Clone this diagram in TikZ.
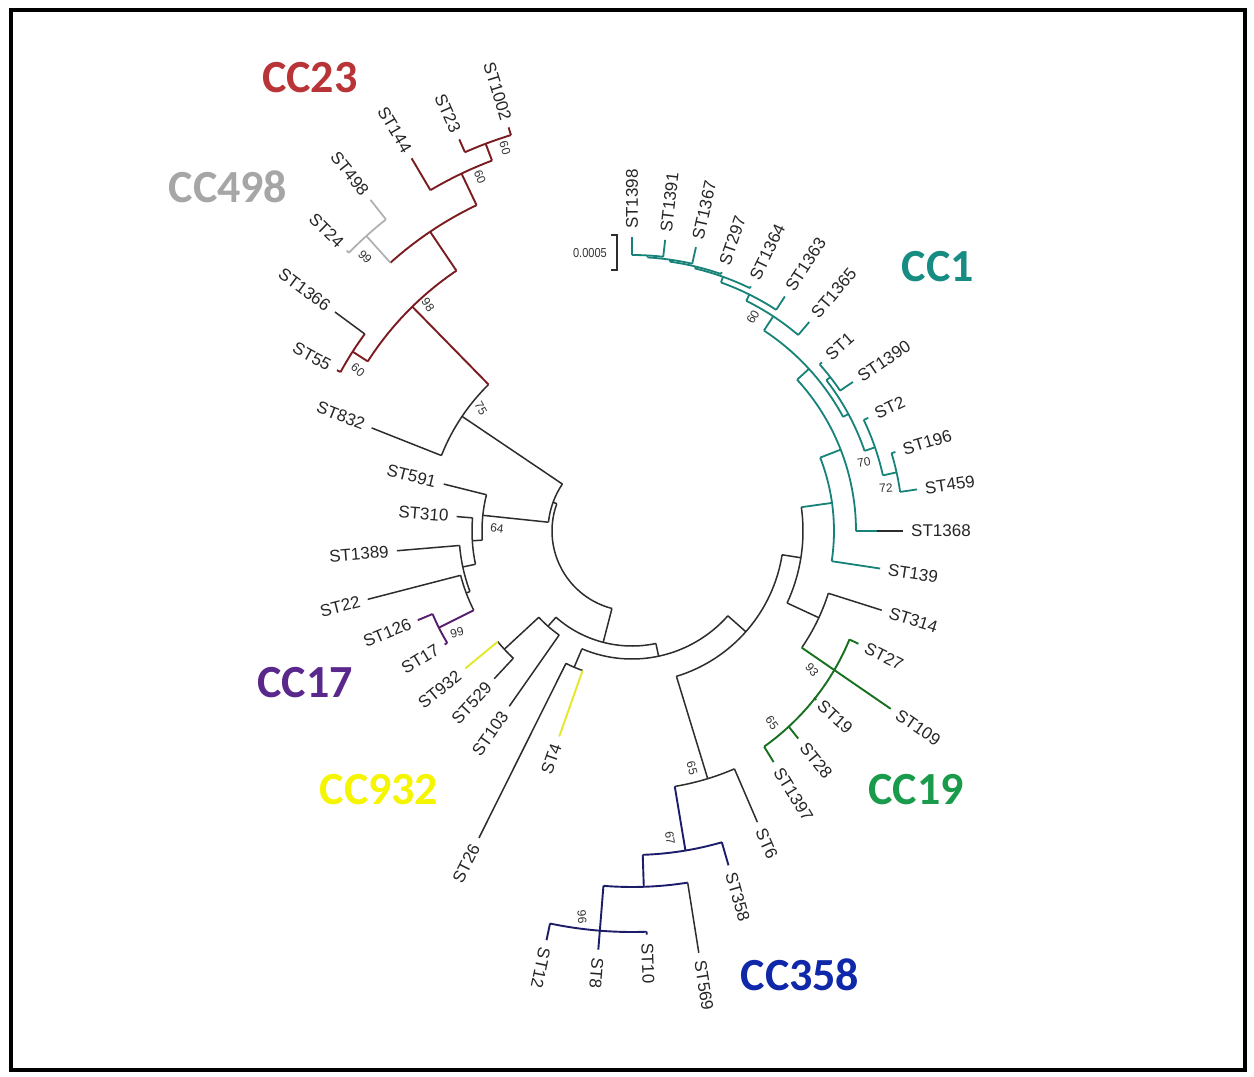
\documentclass[tikz,border=0pt]{standalone}
\usepackage{fontspec}
\setmainfont{Liberation Sans}
\newfontfamily\ccfont{Carlito}
\definecolor{blk}{RGB}{45,45,45}
\definecolor{brnC}{RGB}{122,28,32}
\definecolor{gryC}{RGB}{175,175,175}
\definecolor{purC}{RGB}{85,30,110}
\definecolor{yelC}{RGB}{228,232,40}
\definecolor{navC}{RGB}{28,28,105}
\definecolor{grnC}{RGB}{22,112,30}
\definecolor{telC}{RGB}{22,130,120}
\definecolor{c23}{RGB}{184,52,55}
\definecolor{c498}{RGB}{166,166,166}
\definecolor{c1}{RGB}{22,140,130}
\definecolor{c17}{RGB}{90,40,140}
\definecolor{c932}{RGB}{245,245,0}
\definecolor{c19}{RGB}{25,155,75}
\definecolor{c358}{RGB}{15,40,170}
\newcommand{\tRad}[4][]{\draw[br,#1] (#2:#3) -- (#2:#4);}
\newcommand{\tArc}[4][]{\draw[br,#1] (#2:#4) arc[start angle=#2,end angle=#3,radius=#4];}
\newcommand{\leafR}[3]{\node[lab,anchor=west,rotate=#1] (l#3) at (#1:#2) {#3};}
\newcommand{\leafL}[3]{\node[lab,anchor=east,rotate=#1-180] (l#3) at (#1:#2) {#3};}
\begin{document}
\begin{tikzpicture}[x=1pt,y=1pt,
  br/.style={line width=1.5pt,draw=blk,line join=round},
  brn/.style={draw=brnC,line width=1.9pt},
  gry/.style={draw=gryC,line width=1.7pt},
  pur/.style={draw=purC,line width=1.9pt},
  yel/.style={draw=yelC,line width=1.9pt},
  nav/.style={draw=navC,line width=1.9pt},
  grn/.style={draw=grnC,line width=1.9pt},
  tel/.style={draw=telC,line width=1.8pt},
  lab/.style={font=\fontsize{17}{17}\selectfont,inner sep=1pt,text=black!85},
  bs/.style={font=\fontsize{12}{12}\selectfont,inner sep=0pt,text=black!80},
  cc/.style={font=\ccfont\bfseries\fontsize{46}{46}\selectfont,inner sep=0pt}]
\useasboundingbox (-632,-546) rectangle (622,531);
\fill[white] (-632,-546) rectangle (622,531);
% ---------- root and left part
\tArc{160}{255.5}{80}
\tRad{160}{80}{84}
\tArc{146}{174}{84}
\tRad{146}{84}{205}
\tArc{134.4}{158.4}{205}
\tRad{158.4}{205}{280}
\tRad[brn]{134.4}{205}{314}
\tArc[brn]{124}{147.3}{314}
\tRad[brn]{147.3}{314}{332}
\tArc[brn]{143.6}{151.4}{332}
\tRad{143.6}{332}{369}
\tRad[brn]{151.4}{332}{336}
\tRad[brn]{124}{314}{361}
\tArc[brn]{115.5}{132}{361}
\tRad[gry]{132}{361}{397}
\tArc[gry]{128.3}{135.5}{397}
\tRad[gry]{128.3}{397}{422}
\tRad[gry]{135.5}{397}{400}
\tRad[brn]{115.5}{361}{396}
\tArc[brn]{110.7}{120.6}{396}
\tRad[brn]{120.6}{396}{433}
\tRad[brn]{110.7}{396}{414}
\tArc[brn]{107}{113.8}{414}
\tRad[brn]{113.8}{414}{428}
\tRad[brn]{107}{414}{422}
% 64 clade
\tRad{174}{84}{150}
\tArc{166}{183.5}{150}
\tRad{166}{150}{194}
\tRad{183.5}{150}{160}
\tArc{175.3}{192}{160}
\tRad{175.3}{160}{176}
\tRad{192}{160}{173}
\tArc{184.8}{200.5}{173}
\tRad{184.8}{173}{236}
\tRad{200.5}{173}{177}
\tArc{194.5}{206.6}{177}
\tRad{194.5}{177}{273}
\tRad[pur]{206.6}{177}{216}
\tArc[pur]{202.6}{211.2}{216}
\tRad[pur]{202.6}{216}{232}
\tRad[pur]{211.2}{216}{219}
% J
\tRad{255.5}{80}{115}
\tArc{228.6}{282}{115}
\tRad{228.6}{115}{127}
\tArc{222.8}{235}{127}
\tRad{222.8}{127}{174}
\tArc{219.5}{227}{174}
\tRad[yel]{219.5}{174}{216}
\tRad{227}{174}{202}
\tRad{235}{127}{214}
% K
\tRad{282}{115}{128}
\tArc{247}{318.5}{128}
\tRad{247}{128}{148}
\tArc{243.5}{250.5}{148}
\tRad{243.5}{148}{343}
\tRad[yel]{250.5}{148}{218}
% M
\tRad{318.5}{128}{152}
\tArc{287}{351}{152}
\tRad{287}{152}{259}
\tArc{279.5}{293.3}{259}
\tRad{293.3}{259}{317}
\tRad[nav]{279.5}{259}{324}
\tArc[nav]{271.9}{286.1}{324}
\tRad[nav]{286.1}{324}{348}
\tRad[nav]{271.9}{324}{356}
\tArc[nav]{265.4}{279}{356}
\tRad{279}{356}{427}
\tRad[nav]{265.4}{356}{401}
\tArc[nav]{258.2}{272.1}{401}
\tRad[nav]{258.2}{401}{418}
\tRad[nav]{265.4}{401}{420}
\tRad[nav]{272.1}{401}{404}
% N
\tRad{351}{152}{171}
\tArc{-24.9}{8}{171}
\tRad{-24.9}{171}{206}
\tArc{-34.5}{-17.6}{206}
\tRad{-17.6}{206}{262}
\tRad[grn]{-34.5}{206}{314}
\draw[br,grn] plot[domain=-58.5:-26.5,samples=40] (\x:{243+(-26.5-\x)*0.31});
\tRad[grn]{-26.5}{243}{253}
\tRad[grn]{-42.5}{247}{250}
\tRad[grn]{-51.3}{250}{266}
\tRad[grn]{-58.5}{253}{271}
% CC1
\tRad[tel]{8}{171}{202}
\tArc[tel]{-8.6}{21.3}{202}
\tRad[tel]{-8.6}{202}{251}
\tRad[tel]{21.3}{202}{224}
\tArc[tel]{0}{42.5}{224}
\tRad[tel]{0}{224}{245}
\tRad{0}{245}{271}
\tRad[tel]{42.5}{224}{240}
\tArc[tel]{28.4}{56.65}{240}
\tRad[tel]{28.4}{240}{246}
\tArc[tel]{19}{37.8}{246}
\tRad[tel]{37.8}{246}{251}
\tArc[tel]{34}{41.6}{251}
\tRad[tel]{34}{251}{266.5}
\tRad[tel]{41.6}{251}{254}
\tRad[tel]{19}{246}{257}
\tArc[tel]{12.5}{25.6}{257}
\tRad[tel]{25.6}{257}{262}
\tRad[tel]{12.5}{257}{271}
\tArc[tel]{8.3}{16.7}{271}
\tRad[tel]{8.3}{271}{288}
\tRad[tel]{16.7}{271}{275}
\tRad[tel]{56.65}{240}{257}
\tArc[tel]{49.7}{63.6}{257}
\tRad[tel]{49.7}{257}{274}
\tRad[tel]{63.6}{257}{264}
\tArc[tel]{56.9}{70.3}{264}
\tRad[tel]{56.9}{264}{280}
\tRad[tel]{70.3}{264}{270}
\tArc[tel]{64.1}{76.5}{270}
\tRad[tel]{64.1}{270}{272}
\tRad[tel]{76.5}{270}{272}
\tArc[tel]{70.9}{82}{272}
\tRad[tel]{70.9}{272}{274}
\tRad[tel]{82}{272}{274}
\tArc[tel]{77.3}{86.75}{274}
\tRad[tel]{77.3}{274}{291}
\tRad[tel]{86.75}{274}{276}
\tArc[tel]{83.5}{90}{276}
\tRad[tel]{83.5}{276}{293}
\tRad[tel]{90}{276}{294}
% ---------- leaf labels
\leafL{107}{429}{ST1002}
\leafL{113.8}{435}{ST23}
\leafL{120.6}{440}{ST144}
\leafL{128.3}{429}{ST498}
\leafL{135.5}{407}{ST24}
\leafL{143.6}{376}{ST1366}
\leafL{151.4}{343}{ST55}
\leafL{158.4}{287}{ST832}
\leafL{166}{201}{ST591}
\leafL{175.3}{183}{ST310}
\leafL{184.8}{243}{ST1389}
\leafL{194.5}{280}{ST22}
\leafL{202.6}{239}{ST126}
\leafL{211.2}{226}{ST17}
\leafL{219.5}{223}{ST932}
\leafL{227}{209}{ST529}
\leafL{235}{221}{ST103}
\leafL{243.5}{350}{ST26}
\leafL{250.5}{225}{ST4}
\leafR{258.2}{425}{ST12}
\leafR{265.4}{427}{ST8}
\leafR{272.1}{411}{ST10}
\leafR{279}{434}{ST569}
\leafR{286.1}{355}{ST358}
\leafR{293.3}{324}{ST6}
\leafR{-58.5}{278}{ST1397}
\leafR{-51.3}{273}{ST28}
\leafR{-42.5}{254}{ST19}
\leafR{-34.5}{321}{ST109}
\leafR{-26.5}{260}{ST27}
\leafR{-17.6}{269}{ST314}
\leafR{-8.6}{258}{ST139}
\leafR{0}{278}{ST1368}
\leafR{8.3}{295}{ST459}
\leafR{16.7}{282}{ST196}
\leafR{25.6}{269}{ST2}
\leafR{34}{273}{ST1390}
\leafR{41.6}{261}{ST1}
\leafR{49.7}{281}{ST1365}
\leafR{56.9}{287}{ST1363}
\leafR{64.1}{279}{ST1364}
\leafR{70.9}{281}{ST297}
\leafR{77.3}{298}{ST1367}
\leafR{83.5}{300}{ST1391}
\leafR{90}{301}{ST1398}
% ---------- pixel-positioned items
\begin{scope}[shift={(-632,531)},y=-1pt]
\draw[line width=4pt] (11,10) rectangle (1245,1070);
\node[cc,text=c23] (cc23) at (310,78) {CC23};
\node[cc,text=c498] (cc498) at (228,187) {CC498};
\node[cc,text=c1] (cc1) at (938,267) {CC1};
\node[cc,text=c17] (cc17) at (305,683) {CC17};
\node[cc,text=c932] (cc932) at (379,790) {CC932};
\node[cc,text=c19] (cc19) at (916,790) {CC19};
\node[cc,text=c358] (cc358) at (800,975) {CC358};
\node[bs,rotate=-73] (b1) at (505,148) {60};
\node[bs,rotate=-67] (b2) at (480,177) {60};
\node[bs,rotate=-45] (b3) at (365,257) {99};
\node[bs,rotate=-55] (b4) at (428,305) {98};
\node[bs,rotate=-40] (b5) at (358,370) {60};
\node[bs,rotate=-60] (b6) at (481,408) {75};
\node[bs,rotate=-8] (b7) at (497,528) {64};
\node[bs,rotate=15] (b8) at (457,633) {99};
\node[bs,rotate=-75] (b9) at (692,768) {65};
\node[bs,rotate=-80] (b10) at (670,838) {67};
\node[bs,rotate=-85] (b11) at (582,917) {96};
\node[bs,rotate=-50] (b12) at (812,670) {93};
\node[bs,rotate=-55] (b13) at (772,723) {65};
\node[bs,rotate=10] (b14) at (864,462) {70};
\node[bs,rotate=5] (b15) at (886,488) {72};
\node[bs,rotate=60] (b16) at (753,317) {60};
\draw[line width=1.2pt,draw=blk] (611,235) -- (617,235) -- (617,270) -- (611,270);
\node[font=\fontsize{13}{13}\selectfont,xscale=0.85,inner sep=0pt,text=black!80] (sc) at (590,253) {0.0005};
\end{scope}
\end{tikzpicture}
\end{document}
